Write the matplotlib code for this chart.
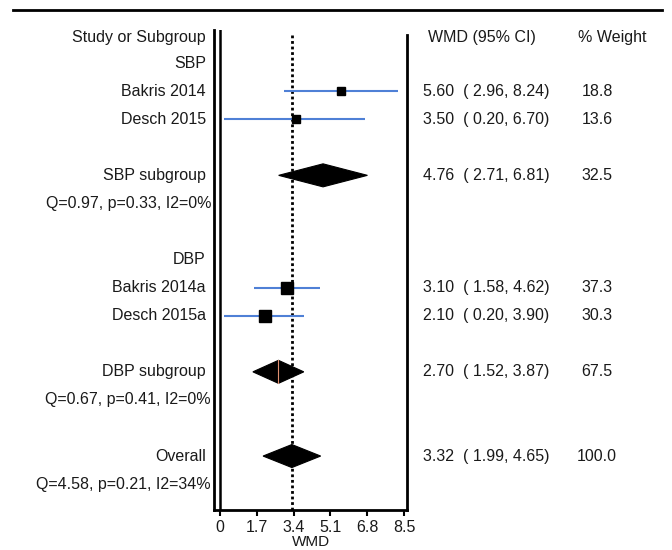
import matplotlib.pyplot as plt
from matplotlib.patches import Polygon
from matplotlib.lines import Line2D
from matplotlib.transforms import blended_transform_factory

plt.rcParams['font.family'] = ['Liberation Sans', 'DejaVu Sans']

# group headers
groups = ["SBP", "DBP"]
group_rows = [1, 8]

# individual studies
studies = ["Bakris 2014", "Desch 2015", "Bakris 2014a", "Desch 2015a"]
study_rows = [2, 3, 9, 10]
wmd = [5.60, 3.50, 3.10, 2.10]
ci_low = [2.96, 0.20, 1.58, 0.20]
ci_high = [8.24, 6.70, 4.62, 3.90]
weight = [18.8, 13.6, 37.3, 30.3]

# pooled estimates
pooled = ["SBP subgroup", "DBP subgroup", "Overall"]
pooled_rows = [5, 12, 15]
pooled_wmd = [4.76, 2.70, 3.32]
pooled_low = [2.71, 1.52, 1.99]
pooled_high = [6.81, 3.87, 4.65]
pooled_weight = [32.5, 67.5, 100.0]

# heterogeneity
het = ["Q=0.97, p=0.33, I2=0%", "Q=0.67, p=0.41, I2=0%", "Q=4.58, p=0.21, I2=34%"]
het_rows = [6, 13, 16]

xticks = [0, 1.7, 3.4, 5.1, 6.8, 8.5]
overall = 3.32

W, H = 672, 550
fig = plt.figure(figsize=(W / 100, H / 100), dpi=100)
fig.patch.set_facecolor('white')

# axes box in pixels
x0, x1 = 214, 407
y_top, y_bot = 30, 510
ax = fig.add_axes([x0 / W, 1 - y_bot / H, (x1 - x0) / W, (y_bot - y_top) / H])

px_per_unit = 184 / 8.5
ax.set_xlim(-6 / px_per_unit, 8.5 + 3 / px_per_unit)
row_px = 28.07
ax.set_ylim((y_bot - 35) / row_px, (y_top - 35) / row_px)

txtc = '#1a1a1a'
blue = '#4f80d6'
fs = 11.5

# CI lines and squares
for r, m, lo, hi, w in zip(study_rows, wmd, ci_low, ci_high, weight):
    ax.plot([lo, hi], [r, r], color=blue, lw=1.5, solid_capstyle='butt', zorder=2)
    ax.plot(m, r, marker='s', color='black', ms=2 * w ** 0.5 * 0.72, zorder=3)

# diamonds
hh = 0.41
for r, m, lo, hi in zip(pooled_rows, pooled_wmd, pooled_low, pooled_high):
    ax.add_patch(Polygon([(lo, r), (m, r - hh), (hi, r), (m, r + hh)],
                         closed=True, facecolor='black', edgecolor='black', lw=0.8, zorder=3))
ax.plot([pooled_wmd[1], pooled_wmd[1]], [pooled_rows[1] - hh, pooled_rows[1] + hh],
        color='#e09070', lw=0.8, zorder=4)

# overall dotted line
ax.plot([overall, overall], [(510 - 35) / row_px, 0], color='black', lw=2,
        ls=(0, (1, 1)), zorder=1, clip_on=False)

# frame
ax.spines['top'].set_visible(False)
for s in ['left', 'right', 'bottom']:
    ax.spines[s].set_linewidth(2)
ax.spines['right'].set_bounds((510 - 35) / row_px, 0)
ax.axvline(0, color='black', lw=1.8)
ax.set_yticks([])
ax.set_xticks(xticks)
ax.set_xticklabels([f'{t:g}' for t in xticks], fontsize=fs, color=txtc)
ax.tick_params(axis='x', direction='out', length=4, width=1.5, pad=3)
fig.text((x0 + x1) / 2 / W, 1 / H, "WMD", ha='center', va='bottom', fontsize=fs - 0.5, color=txtc)

# top rule
fig.add_artist(Line2D([13 / W, 662 / W], [1 - 10 / H, 1 - 10 / H], color='black', lw=2))

# text columns
tr = blended_transform_factory(fig.transFigure, ax.transData)
lab_x = 206 / W
ax.text(lab_x, 0.1, "Study or Subgroup", transform=tr, ha='right', va='center', fontsize=fs, color=txtc)
ax.text(428 / W, 0.1, "WMD (95% CI)", transform=tr, ha='left', va='center', fontsize=fs, color=txtc)
ax.text(578 / W, 0.1, "% Weight", transform=tr, ha='left', va='center', fontsize=fs, color=txtc)

for g, r in zip(groups, group_rows):
    ax.text(lab_x, r, g, transform=tr, ha='right', va='center', fontsize=fs, color=txtc)

for name, r, m, lo, hi, w in zip(studies, study_rows, wmd, ci_low, ci_high, weight):
    ax.text(lab_x, r, name, transform=tr, ha='right', va='center', fontsize=fs, color=txtc)
    ax.text(423 / W, r, f"{m:.2f}  ( {lo:.2f}, {hi:.2f})", transform=tr, ha='left', va='center',
            fontsize=fs, color=txtc)
    ax.text(597 / W, r, f"{w:.1f}", transform=tr, ha='center', va='center', fontsize=fs, color=txtc)

for name, r, m, lo, hi, w in zip(pooled, pooled_rows, pooled_wmd, pooled_low, pooled_high, pooled_weight):
    ax.text(lab_x, r, name, transform=tr, ha='right', va='center', fontsize=fs, color=txtc)
    ax.text(423 / W, r, f"{m:.2f}  ( {lo:.2f}, {hi:.2f})", transform=tr, ha='left', va='center',
            fontsize=fs, color=txtc)
    ax.text(597 / W, r, f"{w:.1f}", transform=tr, ha='center', va='center', fontsize=fs, color=txtc)

for h, r in zip(het, het_rows):
    ax.text(211 / W, r, h, transform=tr, ha='right', va='center', fontsize=fs, color=txtc)

fig.savefig('out.png', dpi=100)
